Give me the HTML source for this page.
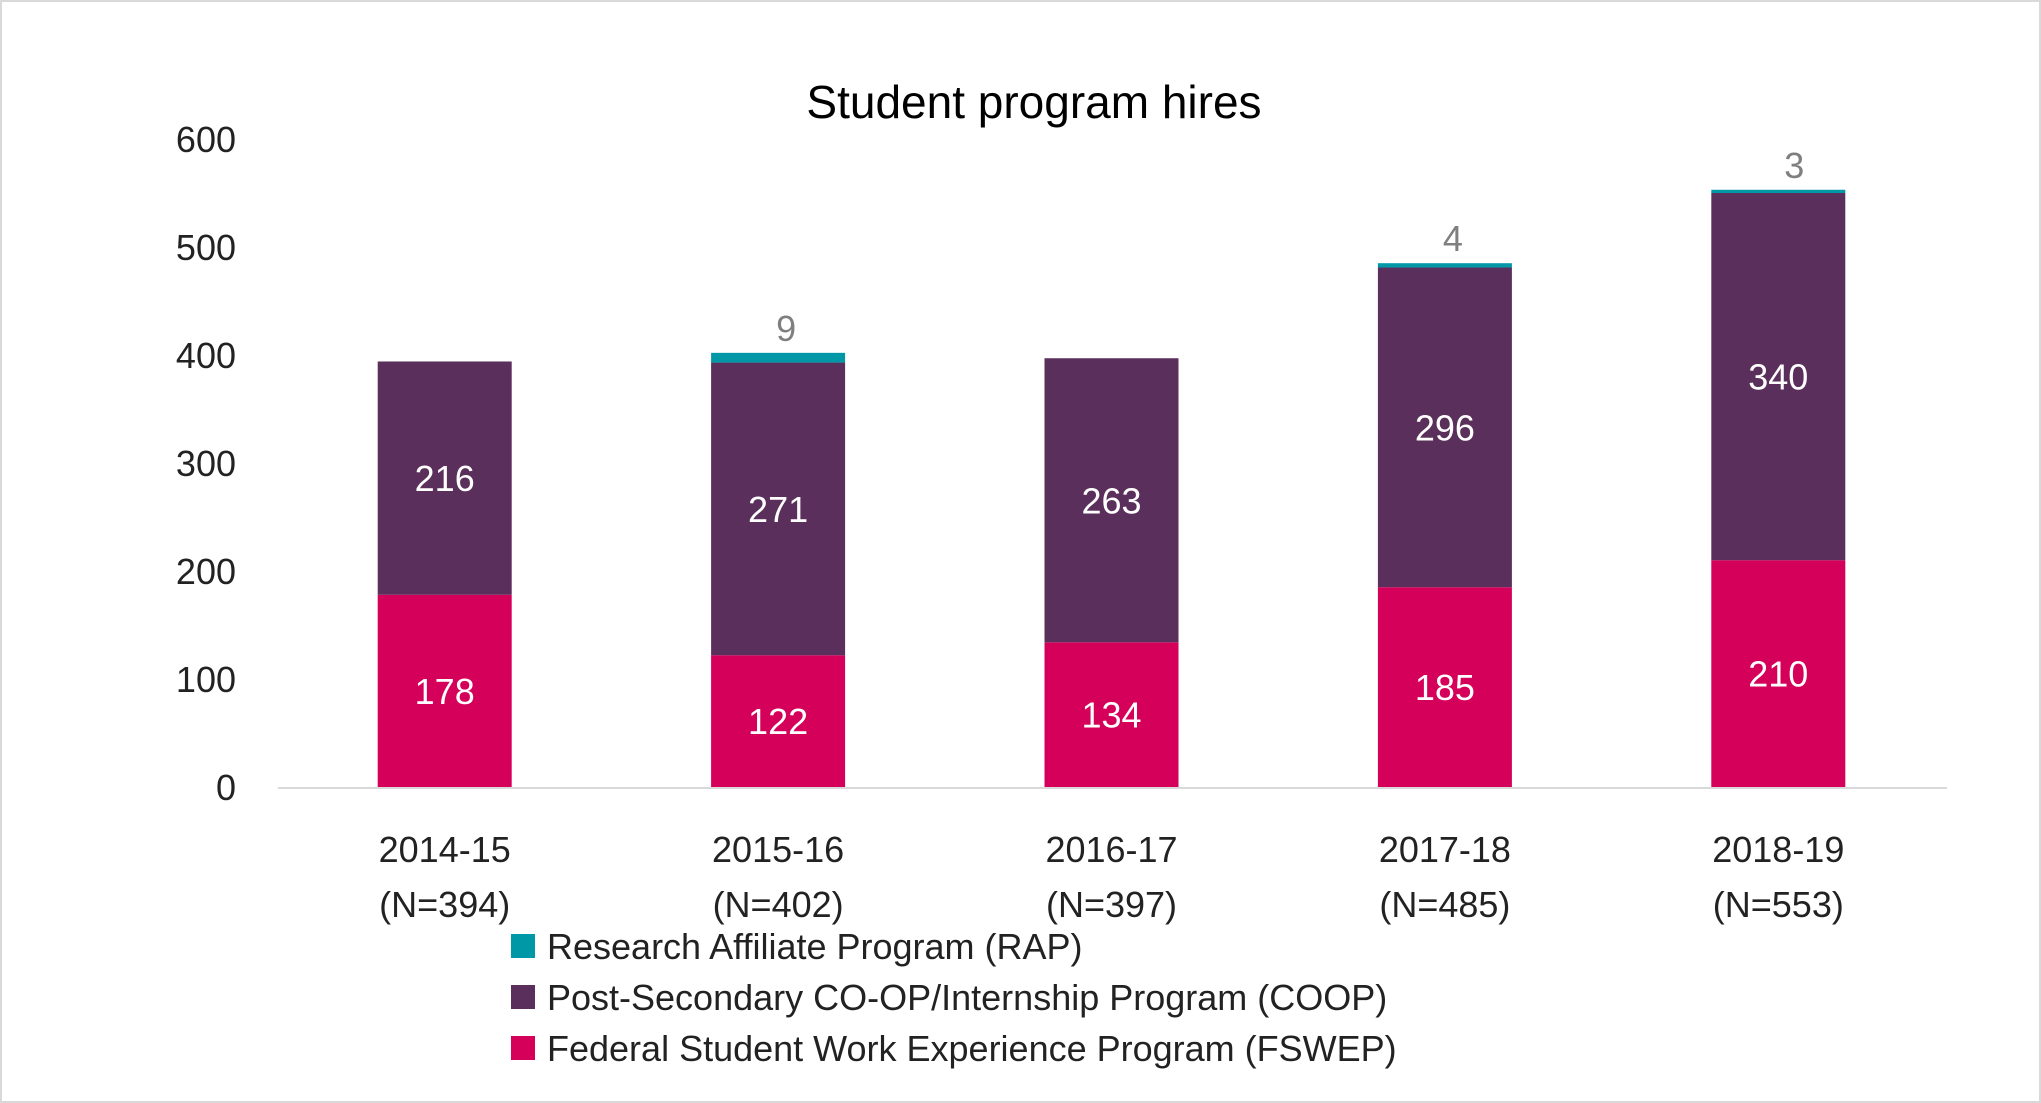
<!DOCTYPE html>
<html><head><meta charset="utf-8"><style>
html,body{margin:0;padding:0;background:#fff;}
#wrap{width:2041px;height:1103px;position:relative;overflow:hidden;box-sizing:border-box;border:2px solid #d9d9d9;}
svg{position:absolute;left:0;top:0;}
text{font-family:"Liberation Sans",sans-serif;}
</style></head><body>
<div id="wrap">
<svg id="chart" width="2041" height="1103"></svg>
</div>
<script>
const categories = ["2014-15","2015-16","2016-17","2017-18","2018-19"];
const nLabels = ["(N=394)","(N=402)","(N=397)","(N=485)","(N=553)"];
const fswep = [178,122,134,185,210];
const coop = [216,271,263,296,340];
const rap = [0,9,0,4,3];
const yTicks = [0,100,200,300,400,500,600];

const NS="http://www.w3.org/2000/svg";
const svg=document.getElementById('chart');
const x0=276,x1=1943,yZero=785,yTop=137,yMax=600;
const band=(x1-x0)/categories.length, barW=134;
function y(v){return yZero-(v/yMax)*(yZero-yTop);}
function xc(i){return x0+band*(i+0.5);}
function mk(tag,attrs,txt){const e=document.createElementNS(NS,tag);for(const k in attrs)e.setAttribute(k,attrs[k]);if(txt!==undefined)e.textContent=txt;svg.appendChild(e);return e;}

let t=mk('text',{x:1032,y:116,'font-size':46,'text-anchor':'middle',fill:'#000'},'Student program hires');



yTicks.forEach(v=>{
  const e=mk('text',{x:234,y:y(v)+13,'font-size':36,'text-anchor':'end',fill:'#222'},String(v));
  
  
});
let ax=mk('line',{x1:x0,x2:x1+2,y1:yZero+1,y2:yZero+1,stroke:'#d9d9d9','stroke-width':2});



categories.forEach((c,i)=>{
  const cx=xc(i), l=cx-barW/2;
  const r1=mk('rect',{x:l,y:y(fswep[i]),width:barW,height:yZero-y(fswep[i]),fill:'#D4005A'});
  
  
  const top2=fswep[i]+coop[i];
  const r2=mk('rect',{x:l,y:y(top2),width:barW,height:y(fswep[i])-y(top2),fill:'#5B2F5B'});
  
  
  const top3=top2+rap[i];
  if(rap[i]>0){
    const r3=mk('rect',{x:l,y:y(top3),width:barW,height:y(top2)-y(top3),fill:'#0097A7'});
    
    
    const lr=mk('text',{x:cx+(i===4?16:8),y:y(top3)-12,'font-size':36,'text-anchor':'middle',fill:'#7f7f7f'},String(rap[i]));
    
    
  }
  const l1=mk('text',{x:cx,y:(y(fswep[i])+yZero)/2+13,'font-size':36,'text-anchor':'middle',fill:'#fff'},String(fswep[i]));
  
  
  const l2=mk('text',{x:cx,y:(y(fswep[i])+y(top2))/2+13,'font-size':36,'text-anchor':'middle',fill:'#fff'},String(coop[i]));
  
  
  const c1=mk('text',{x:cx,y:860,'font-size':36,'text-anchor':'middle',fill:'#222'},c);
  
  
  const c2=mk('text',{x:cx,y:915,'font-size':36,'text-anchor':'middle',fill:'#222'},nLabels[i]);
  
  
});

const legend=[["Research Affiliate Program (RAP)","#0097A7"],["Post-Secondary CO-OP/Internship Program (COOP)","#5B2F5B"],["Federal Student Work Experience Program (FSWEP)","#D4005A"]];
legend.forEach((d,i)=>{
  const yy=944+i*51;
  const s=mk('rect',{x:509,y:yy-12,width:24,height:24,fill:d[1]});
  
  
  const tx=mk('text',{x:545,y:yy+13,'font-size':36,fill:'#222'},d[0]);
  
  
});
</script>
</body></html>
